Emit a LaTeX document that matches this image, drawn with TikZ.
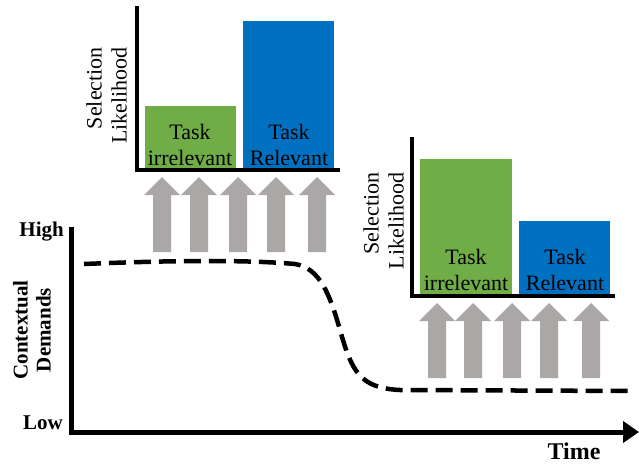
\documentclass[tikz,border=0pt]{standalone}
\usepackage{fontspec}
\setmainfont{Liberation Serif}
\usetikzlibrary{arrows.meta}
\definecolor{bargreen}{RGB}{112,173,71}
\definecolor{barblue}{RGB}{0,112,192}
\definecolor{arrgray}{RGB}{170,167,166}
\begin{document}
\begin{tikzpicture}[x=1pt,y=-1pt,
  lbl/.style={font=\fontsize{22}{26}\selectfont, inner sep=0pt, align=center},
  ylbl/.style={font=\fontsize{22}{25}\selectfont, inner sep=0pt, align=right, rotate=90},
  blbl/.style={font=\fontsize{21}{23}\selectfont\bfseries, inner sep=0pt},
  chartaxis/.style={line width=4pt},
  mainaxis/.style={line width=5pt},
  demand/.style={line width=4.5pt, dash pattern=on 17pt off 8pt},
  uparrow/.pic={\fill[arrgray] (0,0) -- (18,18) -- (9,18) -- (9,75) -- (-9,75) -- (-9,18) -- (-18,18) -- cycle;}
]
\useasboundingbox (0,0) rectangle (639,466);

% ---- main axes ----
\coordinate (ytop) at (71,227);
\coordinate (orig) at (71,434);
\coordinate (xstart) at (69,432);
\coordinate (xend) at (639,432);
\draw[mainaxis] (ytop) -- (orig);
\draw[mainaxis, -{Triangle[length=16pt,width=21pt]}] (xstart) -- (xend);
\node[blbl, anchor=east] (high) at (64,232) {High};
\node[blbl, anchor=east] (low) at (63,423) {Low};
\node[blbl, font=\fontsize{24}{26}\selectfont\bfseries] (time) at (574,451) {Time};
\node[blbl, align=center, rotate=90] (ctx) at (32,330) {Contextual\\Demands};

% ---- demand curve ----
\coordinate (d0) at (84,264);
\coordinate (d1) at (295,264);
\coordinate (d2) at (340,330);
\coordinate (d3) at (400,390);
\coordinate (d4) at (634,391);
\draw[demand] (d0) .. controls (180,260) and (250,260) .. (d1)
  .. controls (320,268) and (330,295) .. (d2)
  .. controls (352,372) and (360,388) .. (d3) -- (d4);

% ---- left bar chart ----
\fill[bargreen] (145,106) rectangle (236,168);
\fill[barblue] (243,21) rectangle (334,168);
\coordinate (la0) at (137,6);
\coordinate (la1) at (137,172);
\coordinate (lb0) at (135,170);
\coordinate (lb1) at (340,170);
\draw[chartaxis] (la0) -- (la1);
\draw[chartaxis] (lb0) -- (lb1);
\node[lbl, anchor=south] (lg) at (190,166) {Task\\irrelevant};
\node[lbl, anchor=south] (lbl1) at (289,166) {Task\\Relevant};
\node[ylbl] (lsel) at (106.5,95.5) {Selection\\Likelihood};
\foreach \x/\n in {162/a,199/b,238/c,276/d,317/e}
  \pic (larr\n) at (\x,177) {uparrow};

% ---- right bar chart ----
\fill[bargreen] (420,159) rectangle (512,294);
\fill[barblue] (519,221) rectangle (610,294);
\coordinate (ra0) at (412,137);
\coordinate (ra1) at (412,298);
\coordinate (rb0) at (410,296);
\coordinate (rb1) at (615,296);
\draw[chartaxis] (ra0) -- (ra1);
\draw[chartaxis] (rb0) -- (rb1);
\node[lbl, anchor=south] (rg) at (466,291) {Task\\irrelevant};
\node[lbl, anchor=south] (rbl) at (565,291) {Task\\Relevant};
\node[ylbl] (rsel) at (383.5,221) {Selection\\Likelihood};
\foreach \x/\n in {437/a,473/b,512/c,549/d,591/e}
  \pic (rarr\n) at (\x,303) {uparrow};
\end{tikzpicture}
\end{document}
